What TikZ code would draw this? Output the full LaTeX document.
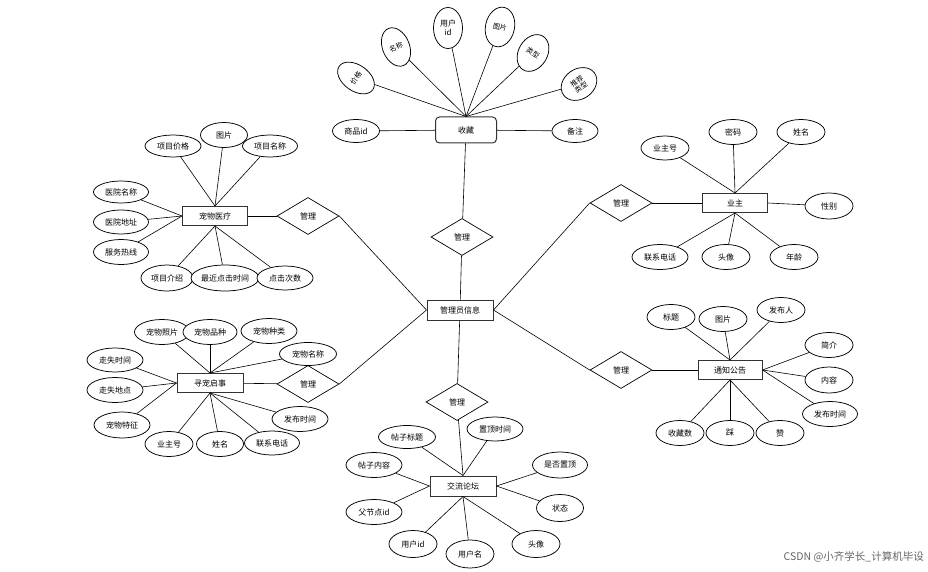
\documentclass[tikz,border=0pt]{standalone}
\usepackage{fontspec}
\newfontfamily\cjk{Noto Sans CJK SC}
\usetikzlibrary{shapes.geometric}
\begin{document}
\begin{tikzpicture}[x=1pt,y=-1pt,
 every node/.style={font=\cjk\fontsize{8}{9}\selectfont, inner sep=0pt, align=center},
 small/.style={font=\cjk\fontsize{7}{7.5}\selectfont},
 ent/.style={draw=black!80, line width=1pt, minimum width=65pt, minimum height=19pt, fill=white},
 rel/.style={diamond, draw, line width=0.7pt, minimum width=62pt, minimum height=37pt, aspect=1.7, fill=white},
 attr/.style={ellipse, draw, line width=0.75pt, minimum width=48pt, minimum height=24pt, fill=white},
 ln/.style={line width=0.6pt}]
\useasboundingbox (0,0) rectangle (928,572);
\fill[white] (0,0) rectangle (928,572);

% ---------- center ----------
\node[ent, minimum width=66pt, minimum height=20pt] (adm) at (460,310) {管理员信息};

% ---------- 收藏 ----------
\node[draw=black!80, line width=1pt, rounded corners=4pt, minimum width=61pt, minimum height=26pt, fill=white] (sc) at (466,130) {收藏};
\node[rel] (r1) at (462,237) {管理};
\node[attr, minimum width=47pt, minimum height=23pt] (sc1) at (356,131) {商品id};
\node[attr, minimum width=46pt, minimum height=23pt] (sc2) at (575,131) {备注};
\node[attr, small, minimum width=26pt, minimum height=41pt, rotate=55] (sc3) at (356,78) {价格};
\node[attr, small, minimum width=27pt, minimum height=40pt, rotate=22] (sc4) at (396,47) {名称};
\node[attr, minimum width=29pt, minimum height=41pt] (sc5) at (448,28) {用户\\id};
\node[attr, small, minimum width=29pt, minimum height=40pt, rotate=-12] (sc6) at (500,27) {图片};
\node[attr, small, minimum width=29pt, minimum height=39pt, rotate=-30] (sc7) at (533,53) {类型};
\node[attr, small, minimum width=38pt, minimum height=30pt, rotate=35] (sc8) at (579,84) {推荐\\类型};
\foreach \a in {sc3,sc4,sc5,sc6,sc7,sc8} \draw[ln] (\a) -- (sc.north);
\draw[ln] (sc1) -- (sc); \draw[ln] (sc2) -- (sc);
\draw[ln] (sc) -- (r1); \draw[ln] (r1) -- (adm);

% ---------- 宠物医疗 ----------
\node[ent] (yl) at (215,216) {宠物医疗};
\node[rel] (r2) at (308,216) {管理};
\node[attr, minimum width=56pt, minimum height=22pt] (yl1) at (173,146) {项目价格};
\node[attr, minimum width=47pt, minimum height=25pt] (yl2) at (224,135) {图片};
\node[attr, minimum width=55pt, minimum height=22pt] (yl3) at (270,146) {项目名称};
\node[attr, minimum width=55pt, minimum height=22pt] (yl4) at (121,192) {医院名称};
\node[attr, minimum width=55pt, minimum height=24pt] (yl5) at (121,222) {医院地址};
\node[attr, minimum width=55pt, minimum height=25pt] (yl6) at (121,252) {服务热线};
\node[attr, minimum width=52pt, minimum height=26pt] (yl7) at (167,278) {项目介绍};
\node[attr, minimum width=66pt, minimum height=26pt] (yl8) at (225,278) {最近点击时间};
\node[attr, minimum width=56pt, minimum height=24pt] (yl9) at (285,278) {点击次数};
\foreach \a in {yl1,yl2,yl3} \draw[ln] (\a) -- (yl.north);
\foreach \a in {yl4,yl5,yl6} \draw[ln] (\a) -- (yl.west);
\foreach \a in {yl7,yl8,yl9} \draw[ln] (\a) -- (yl.south);
\draw[ln] (yl) -- (r2); \draw[ln] (r2.east) -- (adm.west);

% ---------- 寻宠启事 ----------
\node[ent, minimum width=66pt] (xc) at (210,383) {寻宠启事};
\node[rel] (r3) at (308,384) {管理};
\node[attr, minimum width=55pt, minimum height=25pt] (xc1) at (162,332) {宠物照片};
\node[attr, minimum width=54pt, minimum height=25pt] (xc2) at (210,332) {宠物品种};
\node[attr, minimum width=56pt, minimum height=25pt] (xc3) at (269,331) {宠物种类};
\node[attr, minimum width=57pt, minimum height=23pt] (xc4) at (308,354) {宠物名称};
\node[attr, minimum width=56pt, minimum height=24pt] (xc5) at (115,360) {走失时间};
\node[attr, minimum width=56pt, minimum height=25pt] (xc6) at (115,390) {走失地点};
\node[attr, minimum width=56pt, minimum height=26pt] (xc7) at (122,425) {宠物特征};
\node[attr, minimum width=48pt, minimum height=25pt] (xc8) at (169,444) {业主号};
\node[attr, minimum width=47pt, minimum height=25pt] (xc9) at (220,444) {姓名};
\node[attr, minimum width=55pt, minimum height=24pt] (xc10) at (272,443) {联系电话};
\node[attr, minimum width=56pt, minimum height=25pt] (xc11) at (300,419) {发布时间};
\foreach \a in {xc1,xc2,xc3,xc4} \draw[ln] (\a) -- (xc.north);
\foreach \a in {xc5,xc6,xc7} \draw[ln] (\a) -- (xc.west);
\foreach \a in {xc8,xc9,xc10,xc11} \draw[ln] (\a) -- (xc.south);
\draw[ln] (xc) -- (r3); \draw[ln] (r3.east) -- (adm.west);

% ---------- 交流论坛 ----------
\node[ent, minimum width=66pt, minimum height=20pt] (lt) at (463,486) {交流论坛};
\node[rel] (r4) at (457,402) {管理};
\node[attr, minimum width=57pt, minimum height=23pt] (lt1) at (407,437) {帖子标题};
\node[attr, minimum width=56pt, minimum height=24pt] (lt2) at (495,429) {置顶时间};
\node[attr, minimum width=56pt, minimum height=25pt] (lt3) at (374,465) {帖子内容};
\node[attr, minimum width=55pt, minimum height=26pt] (lt4) at (560,465) {是否置顶};
\node[attr, minimum width=56pt, minimum height=25pt] (lt5) at (374,512) {父节点id};
\node[attr, minimum width=47pt, minimum height=27pt] (lt6) at (560,508) {状态};
\node[attr, minimum width=48pt, minimum height=27pt] (lt7) at (413,544) {用户id};
\node[attr, minimum width=48pt, minimum height=28pt] (lt8) at (470,554) {用户名};
\node[attr, minimum width=48pt, minimum height=27pt] (lt9) at (536,544) {头像};
\foreach \a in {lt1,lt2} \draw[ln] (\a) -- (lt.north);
\foreach \a in {lt3,lt5} \draw[ln] (\a) -- (lt.west);
\foreach \a in {lt4,lt6} \draw[ln] (\a) -- (lt.east);
\foreach \a in {lt7,lt8,lt9} \draw[ln] (\a) -- (lt.south);
\draw[ln] (adm) -- (r4); \draw[ln] (r4) -- (lt.north);

% ---------- 业主 ----------
\node[ent] (yz) at (735,203) {业主};
\node[rel] (r5) at (621,203) {管理};
\node[attr, minimum width=48pt, minimum height=24pt] (yz1) at (665,148) {业主号};
\node[attr, minimum width=48pt, minimum height=25pt] (yz2) at (733,132) {密码};
\node[attr, minimum width=48pt, minimum height=25pt] (yz3) at (801,132) {姓名};
\node[attr, minimum width=48pt, minimum height=26pt] (yz4) at (829,206) {性别};
\node[attr, minimum width=56pt, minimum height=25pt] (yz5) at (660,257) {联系电话};
\node[attr, minimum width=48pt, minimum height=25pt] (yz6) at (726,257) {头像};
\node[attr, minimum width=48pt, minimum height=25pt] (yz7) at (794,257) {年龄};
\foreach \a in {yz1,yz2,yz3} \draw[ln] (\a) -- (yz.north);
\draw[ln] (yz4) -- (yz.east);
\foreach \a in {yz5,yz6,yz7} \draw[ln] (\a) -- (yz.south);
\draw[ln] (r5) -- (yz); \draw[ln] (adm.east) -- (r5.west);

% ---------- 通知公告 ----------
\node[ent, minimum width=64pt] (gg) at (730,370) {通知公告};
\node[rel] (r6) at (621,370) {管理};
\node[attr, minimum width=48pt, minimum height=25pt] (gg1) at (671,317) {标题};
\node[attr, minimum width=48pt, minimum height=25pt] (gg2) at (723,319) {图片};
\node[attr, minimum width=48pt, minimum height=25pt] (gg3) at (781,310) {发布人};
\node[attr, minimum width=48pt, minimum height=25pt] (gg4) at (829,345) {简介};
\node[attr, minimum width=48pt, minimum height=26pt] (gg5) at (829,380) {内容};
\node[attr, minimum width=55pt, minimum height=25pt] (gg6) at (830,414) {发布时间};
\node[attr, minimum width=48pt, minimum height=25pt] (gg7) at (680,433) {收藏数};
\node[attr, minimum width=48pt, minimum height=25pt] (gg8) at (730,433) {踩};
\node[attr, minimum width=48pt, minimum height=25pt] (gg9) at (780,433) {赞};
\foreach \a in {gg1,gg2,gg3} \draw[ln] (\a) -- (gg.north);
\foreach \a in {gg4,gg5,gg6} \draw[ln] (\a) -- (gg.east);
\foreach \a in {gg7,gg8,gg9} \draw[ln] (\a) -- (gg.south);
\draw[ln] (r6) -- (gg); \draw[ln] (adm.east) -- (r6.west);

% watermark
\node[font=\cjk\fontsize{10.5}{12}\selectfont, text=black!60, anchor=east] (wm) at (924,557) {CSDN @小齐学长\_计算机毕设};
\end{tikzpicture}
\end{document}
